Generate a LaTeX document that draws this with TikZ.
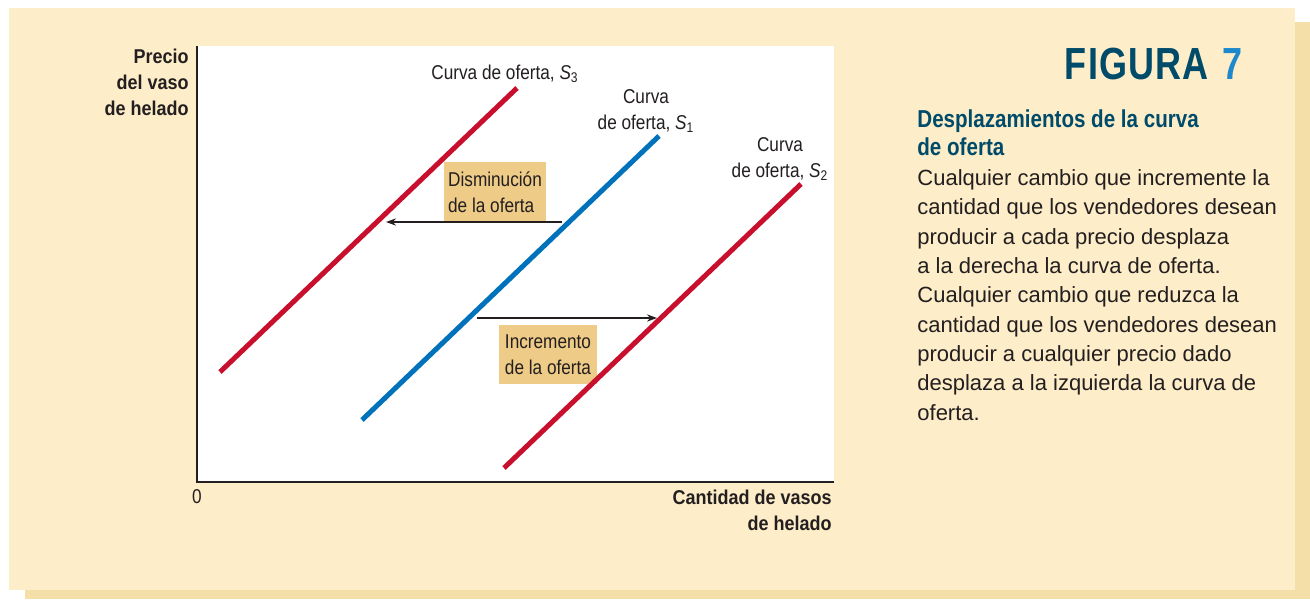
\documentclass[tikz,border=0pt]{standalone}
\usepackage{fontspec}
\setmainfont{Liberation Sans}
\newfontfamily\labelfont[FakeStretch=0.86]{Liberation Sans}
\newfontfamily\axisfont[FakeStretch=0.9]{Liberation Sans}
\newfontfamily\headfont[FakeStretch=0.84]{Liberation Sans}
\newfontfamily\titlefont[FakeStretch=0.8]{Liberation Sans}
\usetikzlibrary{arrows.meta}
\definecolor{panelbg}{RGB}{253,237,200}
\definecolor{panelshadow}{RGB}{244,223,168}
\definecolor{boxtan}{RGB}{238,203,135}
\definecolor{curvered}{RGB}{200,16,46}
\definecolor{curveblue}{RGB}{0,114,188}
\definecolor{inkdark}{RGB}{35,31,32}
\definecolor{figteal}{RGB}{0,75,106}
\definecolor{figblue}{RGB}{30,136,204}

\begin{document}
\begin{tikzpicture}[x=0.5pt,y=-0.5pt,>={Stealth[length=5pt,width=3.6pt]},
    supply/.style={line width=2.5pt},
    shiftbox/.style={fill=boxtan,inner sep=0pt,align=left,text=inkdark,font=\labelfont\fontsize{10}{13}\selectfont},
    curvelabel/.style={inner sep=0pt,align=center,text=inkdark,font=\labelfont\fontsize{10}{13}\selectfont},
    axislabel/.style={inner sep=0pt,align=right,text=inkdark,font=\axisfont\bfseries\fontsize{10}{12.9}\selectfont}]
\useasboundingbox (0,0) rectangle (1310,599);
% panel
\fill[panelshadow] (25,22) rectangle (1310,599);
\fill[panelbg] (9,8) rectangle (1295,590);
\fill[white] (197,46) rectangle (834,482);

\node[shiftbox,minimum width=51pt,minimum height=30pt] (dec) at (495,192) {Disminución\\de la oferta};
\node[shiftbox,minimum width=49pt,minimum height=29.5pt] (inc) at (548,354.5) {Incremento\\de la oferta};

% supply curves S3, S1, S2
\foreach \c/\col/\ax/\ay in {s3/curvered/220/372,s1/curveblue/362/420,s2/curvered/504/468}
  \draw[supply,\col] (\ax,\ay) coordinate (\c lo) -- ++(297,-284) coordinate (\c hi);

\coordinate (decfrom) at (562,222);
\coordinate (decto) at (386,222);
\coordinate (incfrom) at (477,318);
\coordinate (incto) at (657,318);
\draw[->,line width=0.65pt,inkdark] (decfrom) -- (decto);
\draw[->,line width=0.65pt,inkdark] (incfrom) -- (incto);

% axes
\coordinate (ytop) at (197,46);
\coordinate (origin) at (197,482);
\coordinate (xend) at (834,482);
\draw[inkdark,line width=0.8pt] (ytop) -- (origin) -- (xend);

\node[axislabel,anchor=north east] (ylab) at (189,48.7) {Precio\\del vaso\\de helado};
\node[axislabel,anchor=north east] (xlab) at (832,489.7) {Cantidad de vasos\\de helado};
\node[curvelabel,anchor=base] (zero) at (197,503) {0};

\node[curvelabel,anchor=base west] (s3lab) at (431,80) {Curva de oferta, \textit{S}\textsubscript{3}};
\node[curvelabel,anchor=north] (s1lab) at (646,88.7) {Curva\\de oferta, \textit{S}\textsubscript{1}};
\node[curvelabel,anchor=north] (s2lab) at (780,136.7) {Curva\\de oferta, \textit{S}\textsubscript{2}};

% caption on the right
\node[anchor=base east,font=\titlefont\bfseries\fontsize{22.5}{27}\selectfont] (title) at (1250,80)
  {\textcolor{figteal}{F\hspace{0.6pt}I\hspace{0.6pt}G\hspace{0.6pt}U\hspace{0.6pt}R\hspace{0.6pt}A}\hspace{7pt}\textcolor{figblue}{7}};
\node[anchor=north west,inner sep=0pt,align=left,text=figteal,font=\headfont\bfseries\fontsize{12.25}{14}\selectfont] (head) at (917,109.5)
  {Desplazamientos de la curva\\de oferta};
\node[anchor=north west,inner sep=0pt,align=left,text=inkdark,font=\fontsize{11}{14.65}\selectfont] (body) at (917,169.3)
  {Cualquier cambio que incremente la\\cantidad que los vendedores desean\\producir a cada precio desplaza\\a la derecha la curva de oferta.\\Cualquier cambio que reduzca la\\cantidad que los vendedores desean\\producir a cualquier precio dado\\desplaza a la izquierda la curva de\\oferta.};
\end{tikzpicture}
\end{document}
